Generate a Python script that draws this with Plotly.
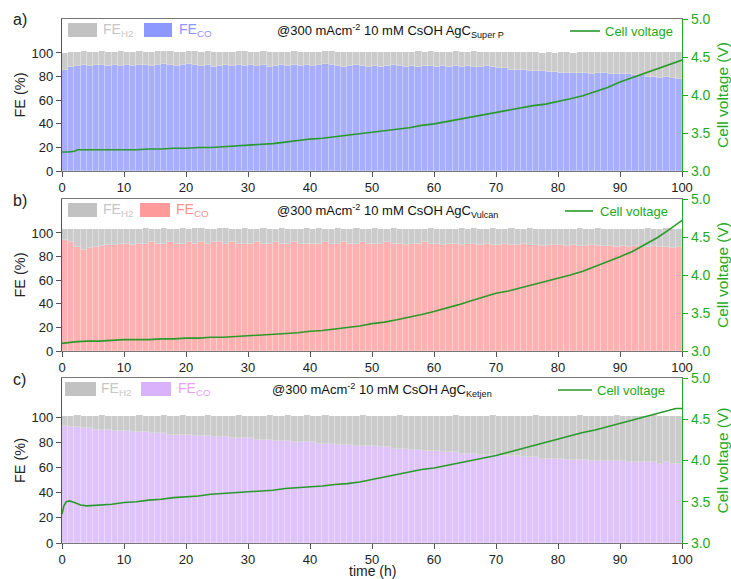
import plotly.graph_objects as go

# ---------------- data ----------------
HOURS = list(range(100))          # bar start hour, 1 h bins
TICKS_X = [0, 10, 20, 30, 40, 50, 60, 70, 80, 90, 100]
TICKS_FE = [0, 20, 40, 60, 80, 100]
TICKS_V = [3.0, 3.5, 4.0, 4.5, 5.0]

CATALYSTS = ["Super P", "Vulcan", "Ketjen"]
PANEL_TAGS = ["a)", "b)", "c)"]

fe_co_superp = [
    86, 88, 89, 90, 89, 90, 90, 89, 90, 89,
    90, 89, 90, 90, 89, 90, 91, 90, 89, 90,
    91, 90, 89, 90, 88, 89, 90, 89, 90, 89,
    90, 89, 90, 88, 89, 90, 89, 90, 89, 90,
    89, 90, 91, 90, 89, 88, 89, 90, 89, 88,
    89, 88, 89, 90, 89, 88, 89, 88, 89, 89,
    88, 89, 88, 89, 88, 89, 88, 88, 89, 88,
    87, 87, 86, 86, 86, 85, 85, 85, 84, 84,
    83, 83, 83, 83, 83, 82, 83, 83, 82, 82,
    82, 82, 81, 81, 80, 80, 79, 80, 79, 78]
fe_h2_superp = [
    14, 13, 12, 12, 12, 11, 12, 12, 11, 13,
    11, 12, 12, 11, 12, 12, 11, 12, 12, 11,
    11, 12, 12, 12, 13, 12, 11, 12, 12, 13,
    11, 12, 12, 13, 12, 11, 12, 12, 12, 11,
    12, 11, 11, 12, 12, 13, 12, 11, 12, 13,
    12, 13, 12, 11, 12, 13, 12, 14, 12, 13,
    13, 12, 13, 13, 13, 12, 14, 13, 12, 13,
    14, 14, 15, 15, 15, 16, 16, 15, 17, 16,
    18, 18, 17, 18, 18, 19, 18, 18, 19, 19,
    19, 19, 20, 20, 21, 21, 22, 21, 22, 23]

fe_co_vulcan = [
    94, 92, 88, 86, 87, 88, 89, 90, 90, 91,
    91, 90, 91, 91, 92, 91, 91, 92, 91, 91,
    92, 91, 92, 91, 92, 92, 91, 92, 91, 91,
    91, 92, 91, 91, 92, 91, 91, 92, 91, 91,
    91, 91, 92, 91, 91, 92, 91, 91, 92, 91,
    91, 91, 92, 91, 91, 90, 91, 91, 92, 91,
    91, 90, 91, 91, 90, 91, 91, 90, 91, 90,
    90, 91, 90, 90, 91, 90, 90, 89, 90, 90,
    90, 89, 90, 89, 89, 90, 89, 89, 89, 88,
    89, 88, 89, 88, 88, 89, 88, 88, 87, 88]
fe_h2_vulcan = [
    9, 11, 15, 17, 16, 15, 14, 13, 13, 12,
    12, 13, 12, 13, 11, 12, 13, 11, 12, 13,
    11, 13, 12, 12, 11, 12, 13, 11, 12, 13,
    12, 11, 13, 12, 11, 13, 12, 11, 12, 13,
    12, 13, 11, 12, 13, 11, 12, 13, 11, 12,
    13, 12, 11, 13, 12, 13, 12, 12, 11, 13,
    12, 13, 12, 12, 14, 12, 13, 13, 12, 14,
    13, 12, 14, 13, 12, 14, 13, 14, 13, 13,
    13, 14, 13, 15, 14, 13, 15, 14, 14, 15,
    14, 15, 14, 15, 16, 14, 15, 16, 16, 15]

fe_co_ketjen = [
    93, 92, 92, 91, 91, 90, 90, 90, 89, 89,
    89, 88, 88, 88, 87, 87, 87, 86, 86, 86,
    86, 85, 85, 85, 84, 84, 84, 83, 83, 83,
    83, 82, 82, 82, 81, 81, 81, 80, 80, 80,
    80, 79, 79, 79, 78, 78, 78, 77, 77, 77,
    77, 76, 76, 75, 75, 75, 74, 74, 73, 73,
    73, 72, 72, 72, 71, 71, 71, 70, 70, 70,
    70, 69, 69, 69, 68, 68, 68, 67, 67, 67,
    67, 66, 66, 66, 66, 65, 65, 65, 65, 65,
    65, 64, 64, 64, 64, 64, 63, 64, 63, 63]
fe_h2_ketjen = [
    8, 9, 10, 10, 10, 11, 12, 11, 12, 12,
    12, 13, 14, 13, 14, 14, 15, 15, 15, 16,
    15, 16, 16, 17, 17, 17, 17, 18, 19, 18,
    18, 19, 19, 20, 20, 20, 21, 21, 21, 22,
    21, 22, 23, 22, 23, 23, 23, 24, 25, 24,
    24, 25, 25, 26, 27, 26, 27, 27, 28, 28,
    28, 29, 29, 30, 30, 30, 30, 31, 31, 32,
    31, 32, 32, 32, 33, 33, 34, 34, 34, 34,
    34, 35, 35, 36, 35, 36, 36, 36, 36, 37,
    36, 37, 37, 37, 37, 38, 38, 37, 38, 38]

t_v_superp = [0, 1, 2, 2.5, 4, 6, 8, 10, 12, 14, 16, 18, 20, 22, 24, 26, 28, 30,
              32, 34, 36, 38, 40, 42, 44, 46, 48, 50, 52, 54, 56, 58, 60, 62, 64,
              66, 68, 70, 72, 74, 76, 78, 80, 82, 84, 86, 88, 90, 92, 94, 96, 98, 100]
v_superp = [3.25, 3.25, 3.26, 3.28, 3.28, 3.28, 3.28, 3.28, 3.28, 3.29, 3.29, 3.30,
            3.30, 3.31, 3.31, 3.32, 3.33, 3.34, 3.35, 3.36, 3.38, 3.40, 3.42, 3.43,
            3.45, 3.47, 3.49, 3.51, 3.53, 3.55, 3.57, 3.60, 3.62, 3.65, 3.68, 3.71,
            3.75, 3.78, 3.80, 3.83, 3.86, 3.88, 3.91, 3.95, 3.99, 4.04, 4.10, 4.17,
            4.23, 4.29, 4.35, 4.41, 4.46]

t_v_vulcan = [0, 1, 2, 4, 6, 8, 10, 12, 14, 16, 18, 20, 22, 24, 26, 28, 30, 32, 34,
              36, 38, 40, 42, 44, 46, 48, 50, 52, 54, 56, 58, 60, 62, 64, 66, 68, 70,
              72, 74, 76, 78, 80, 82, 84, 86, 88, 90, 92, 94, 96, 98, 99, 100]
v_vulcan = [3.10, 3.11, 3.12, 3.13, 3.13, 3.14, 3.15, 3.15, 3.15, 3.16, 3.16, 3.17,
            3.17, 3.18, 3.18, 3.19, 3.20, 3.21, 3.22, 3.23, 3.24, 3.26, 3.27, 3.29,
            3.31, 3.33, 3.36, 3.38, 3.41, 3.44, 3.48, 3.52, 3.56, 3.61, 3.66, 3.71,
            3.76, 3.79, 3.83, 3.87, 3.91, 3.95, 4.00, 4.05, 4.11, 4.17, 4.24, 4.31,
            4.40, 4.49, 4.60, 4.66, 4.72]

t_v_ketjen = [0, 0.3, 0.7, 1.2, 2, 3, 4, 6, 8, 10, 12, 14, 16, 18, 20, 22, 24, 26, 28,
              30, 32, 34, 36, 38, 40, 42, 44, 46, 48, 50, 52, 54, 56, 58, 60, 62, 64,
              66, 68, 70, 72, 74, 76, 78, 80, 82, 84, 86, 88, 90, 92, 94, 96, 98, 99, 100]
v_ketjen = [3.35, 3.45, 3.50, 3.51, 3.49, 3.46, 3.45, 3.46, 3.47, 3.49, 3.50, 3.52,
            3.53, 3.55, 3.56, 3.57, 3.59, 3.60, 3.61, 3.62, 3.63, 3.64, 3.66, 3.67,
            3.68, 3.69, 3.71, 3.72, 3.74, 3.77, 3.80, 3.83, 3.86, 3.89, 3.91, 3.94,
            3.97, 4.00, 4.03, 4.06, 4.10, 4.14, 4.18, 4.22, 4.26, 4.30, 4.34, 4.37,
            4.41, 4.45, 4.49, 4.53, 4.57, 4.61, 4.63, 4.63]

FE_CO = [fe_co_superp, fe_co_vulcan, fe_co_ketjen]
FE_H2 = [fe_h2_superp, fe_h2_vulcan, fe_h2_ketjen]
T_V = [t_v_superp, t_v_vulcan, t_v_ketjen]
V = [v_superp, v_vulcan, v_ketjen]

# ---------------- styling ----------------
CO_BAR = ["#a6aefd", "#ffb1b1", "#dfc3fb"]
CO_KEY = ["#8e99ff", "#ff9a9a", "#d9b2fb"]
CO_TXT = ["#8c96ff", "#ff9090", "#e7a2f6"]
H2_BAR = "#cbcbcb"
H2_KEY = "#c2c2c2"
BAR_EDGE = "rgba(255,255,255,0.35)"
GREEN_LINE = "#2a9a2a"
GREEN = "#22aa22"
AXIS = "#555555"
FONT = "Liberation Sans, Arial, sans-serif"

W, H = 731, 579
L, R = 62, 682            # plot area, px
TOP, BOT = 19, 543
panels_px = [(19, 171), (199, 351), (378, 543)]
fe_top = [128.8, 128.8, 131.0]


def px_x(px):
    return (px - L) / (R - L)


def px_y(py):
    return (BOT - py) / (BOT - TOP)


fig = go.Figure()
layout = dict(
    width=W, height=H,
    margin=dict(l=L, r=W - R, t=TOP, b=H - BOT),
    paper_bgcolor="white", plot_bgcolor="white",
    barmode="stack", bargap=0, showlegend=False,
    font=dict(family=FONT, size=13, color="#222222"),
)
shapes, annotations = [], []

for i in range(3):
    xa = "x" if i == 0 else f"x{i + 1}"
    ya = f"y{2 * i + 1}" if i else "y"
    yv = f"y{2 * i + 2}"
    x_centers = [h + 0.5 for h in HOURS]

    fig.add_trace(go.Bar(x=x_centers, y=FE_CO[i],
                         marker=dict(color=CO_BAR[i], line=dict(width=0.6, color=BAR_EDGE)),
                         xaxis=xa, yaxis=ya, name="FE_CO"))
    fig.add_trace(go.Bar(x=x_centers, y=FE_H2[i],
                         marker=dict(color=H2_BAR, line=dict(width=0.6, color=BAR_EDGE)),
                         xaxis=xa, yaxis=ya, name="FE_H2"))
    fig.add_trace(go.Scatter(x=T_V[i], y=V[i], mode="lines",
                             line=dict(color=GREEN_LINE, width=1.6),
                             xaxis=xa, yaxis=yv, name="Cell voltage"))

    top_px, bot_px = panels_px[i]
    dom = [px_y(bot_px), px_y(top_px)]
    xkey = "xaxis" if i == 0 else f"xaxis{i + 1}"
    ykey = "yaxis" if i == 0 else f"yaxis{2 * i + 1}"
    vkey = f"yaxis{2 * i + 2}"

    layout[xkey] = dict(
        domain=[0, 1], anchor=ya, range=[0, 100], tickvals=TICKS_X,
        ticks="outside", ticklen=5, tickcolor=AXIS, showline=True, linecolor="#777777",
        linewidth=1.2, mirror=True, showgrid=False, zeroline=False, automargin=False,
        tickfont=dict(size=13, color="#222222"), ticklabelstandoff=-1,
    )
    layout[ykey] = dict(
        domain=dom, anchor=xa, range=[0, fe_top[i]], tickvals=TICKS_FE,
        ticks="outside", ticklen=5, tickcolor=AXIS, showline=True, linecolor=AXIS,
        linewidth=1.2, showgrid=False, zeroline=False, automargin=False,
        tickfont=dict(size=13, color="#222222"),
        title=dict(text="FE (%)", font=dict(size=14.5), standoff=2),
    )
    layout[vkey] = dict(
        domain=dom, anchor=xa, overlaying=ya, side="right", range=[3, 5],
        tickvals=TICKS_V, tickformat=".1f", ticks="outside", ticklen=5,
        tickcolor=GREEN, showline=True, linecolor=GREEN, linewidth=1.2,
        showgrid=False, zeroline=False, automargin=False,
        tickfont=dict(size=14, color=GREEN),
        title=dict(text="Cell voltage (V)", font=dict(size=15.5, color=GREEN), standoff=10),
    )

    # panel tag
    annotations.append(dict(xref="paper", yref="paper", x=px_x(20), y=px_y(top_px + 1),
                            text=PANEL_TAGS[i], showarrow=False, xanchor="center",
                            yanchor="middle", font=dict(size=16, color="#222222")))

    # key boxes
    ky0, ky1 = top_px + 4, top_px + 18
    kcy = (ky0 + ky1) / 2
    h2_box = [(68, 97), (68, 97), (65, 96)][i]
    co_box = [(144, 172), (140, 170), (141, 171)][i]
    h2_txt = [101, 101, 99][i]
    co_txt = [177, 174, 176][i]
    shapes.append(dict(type="rect", xref="paper", yref="paper", x0=px_x(h2_box[0]),
                       x1=px_x(h2_box[1]), y0=px_y(ky1), y1=px_y(ky0),
                       fillcolor=H2_KEY, line_width=0))
    shapes.append(dict(type="rect", xref="paper", yref="paper", x0=px_x(co_box[0]),
                       x1=px_x(co_box[1]), y0=px_y(ky1), y1=px_y(ky0),
                       fillcolor=CO_KEY[i], line_width=0))
    annotations.append(dict(xref="paper", yref="paper", x=px_x(h2_txt), y=px_y(kcy),
                            text="FE<sub>H2</sub>", showarrow=False, xanchor="left",
                            yanchor="middle", font=dict(size=14, color="#c6c6c6")))
    annotations.append(dict(xref="paper", yref="paper", x=px_x(co_txt), y=px_y(kcy),
                            text="FE<sub>CO</sub>", showarrow=False, xanchor="left",
                            yanchor="middle", font=dict(size=14, color=CO_TXT[i])))

    # condition label
    annotations.append(dict(xref="paper", yref="paper", x=px_x(275 if i < 2 else 270),
                            y=px_y(kcy + 1),
                            text=f"@300 mAcm<sup>-2</sup> 10 mM CsOH AgC<sub>{CATALYSTS[i]}</sub>",
                            showarrow=False, xanchor="left", yanchor="middle",
                            font=dict(size=13, color="#111111")))

    # voltage key
    vl = [(570, 600, 603), (565, 593, 598), (558, 592, 595)][i]
    vy = top_px + 12
    shapes.append(dict(type="line", xref="paper", yref="paper", x0=px_x(vl[0]),
                       x1=px_x(vl[1]), y0=px_y(vy), y1=px_y(vy),
                       line=dict(color=GREEN_LINE, width=1.6)))
    annotations.append(dict(xref="paper", yref="paper", x=px_x(vl[2]), y=px_y(vy),
                            text="Cell voltage", showarrow=False, xanchor="left",
                            yanchor="middle", font=dict(size=13, color=GREEN)))

# shared time axis label below the last panel
annotations.append(dict(xref="paper", yref="paper", x=px_x(372), y=px_y(571),
                        text="time (h)", showarrow=False, xanchor="center",
                        yanchor="middle", font=dict(size=14, color="#222222")))

layout["shapes"] = shapes
layout["annotations"] = annotations
fig.update_layout(**layout)
fig.write_html("out.html")
